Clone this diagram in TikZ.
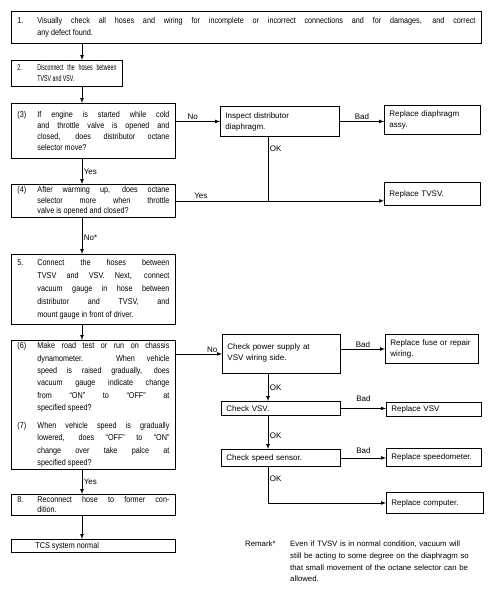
\documentclass[tikz,border=0pt]{standalone}
\usepackage{fontspec}
\setmainfont{Liberation Sans}
\newfontfamily\boxfont[FakeStretch=0.85]{Liberation Sans}
\newfontfamily\narrowfont[FakeStretch=0.62]{Liberation Sans}
\usetikzlibrary{arrows}
\tolerance=10000
\hbadness=10000
\newcommand{\numpar}[2]{\noindent\makebox[20pt][l]{#1}\parbox[t]{\dimexpr\hsize-20pt\relax}{\rightskip=0pt\relax #2}}

\begin{document}
\begin{tikzpicture}[x=1pt, y=-1pt, >=latex, %Pfeilspitzen
    stepbox/.style={draw, line width=0.9pt, anchor=north west, inner xsep=6pt, inner ysep=2pt, align=none,
      font=\boxfont\fontsize{8.5}{#1}\selectfont},
    stepbox/.default=12.4,
    fixbox/.style={draw, line width=0.9pt, anchor=north west, inner xsep=5pt, inner ysep=2pt, align=left,
      font=\fontsize{8}{11}\selectfont},
    lbl/.style={font=\fontsize{8}{9}\selectfont, inner sep=1.5pt},
    flow/.style={->, line width=0.7pt}]
  \useasboundingbox (0,0) rectangle (492,595);
  \coordinate (lspine) at (82,0);
  \coordinate (rspine) at (268,0);

  % linke Spalte
  \node[stepbox=12, text width=458pt, minimum height=32pt] (s1) at (11,11)
    {\numpar{1.}{Visually check all hoses and wiring for incomplete or incorrect connections and for damages, and correct\linebreak any defect found.}};
  \node[stepbox=11, text width=99pt, minimum height=26pt, font=\narrowfont\fontsize{8.5}{11}\selectfont] (s2) at (11,60)
    {\numpar{2.}{Disconnect the hoses between\linebreak TVSV and VSV.}};
  \node[stepbox=11.3, text width=152pt, minimum height=55pt] (s3) at (11,103)
    {\numpar{(3)}{If engine is started while cold\linebreak and throttle valve is opened and\linebreak closed, does distributor octane\linebreak selector move?}};
  \node[stepbox=10.5, text width=152pt, minimum height=31pt] (s4) at (11,184)
    {\numpar{(4)}{After warming up, does octane\linebreak selector more when throttle\linebreak valve is opened and closed?}};
  \node[stepbox=13, text width=152pt, minimum height=70pt] (s5) at (11,254)
    {\numpar{5.}{Connect the hoses between\linebreak TVSV and VSV. Next, connect\linebreak vacuum gauge in hose between\linebreak distributor and TVSV, and\linebreak mount gauge in front of driver.}};
  \node[stepbox=12.4, text width=152pt, minimum height=127pt] (s6) at (11,340)
    {\numpar{(6)}{Make road test or run on chassis\linebreak dynamometer. When vehicle\linebreak speed is raised gradually, does\linebreak vacuum gauge indicate change\linebreak from “ON” to “OFF” at\linebreak specified speed?}\par\vspace{9pt}
     \numpar{(7)}{When vehicle speed is gradually\linebreak lowered, does “OFF” to “ON”\linebreak change over take palce at\linebreak specified speed?}};
  \node[stepbox=10, text width=152pt, minimum height=21pt] (s8) at (11,494)
    {\numpar{8.}{Reconnect hose to former con-\linebreak dition.}};
  \node[stepbox=10, text width=152pt, minimum height=13pt] (tcs) at (11,539)
    {\noindent\hspace*{18pt}TCS system normal};

  % rechte Spalte
  \node[fixbox, text width=109pt, minimum height=30pt] (inspect) at (220,106) {Inspect distributor\\diaphragm.};
  \node[fixbox, text width=86pt, minimum height=29pt] (diaph) at (384,105) {Replace diaphragm\\assy.};
  \node[fixbox, text width=86pt, minimum height=23pt] (tvsv) at (384,182) {Replace TVSV.};
  \node[fixbox, text width=108pt, minimum height=39pt, text depth=14pt] (power) at (222,334) {Check power supply at\\VSV wiring side.};
  \node[fixbox, text width=83pt, minimum height=29pt] (fuse) at (385,334) {Replace fuse or repair\\wiring.};
  \node[fixbox, text width=109pt, minimum height=14pt] (vsv) at (221,401) {Check VSV.};
  \node[fixbox, text width=85pt, minimum height=14pt] (rvsv) at (386,402) {Replace VSV};
  \node[fixbox, text width=109pt, minimum height=17pt] (speed) at (221,449) {Check speed sensor.};
  \node[fixbox, text width=85pt, minimum height=18pt] (rspeed) at (386,448) {Replace speedometer.};
  \node[fixbox, text width=87pt, minimum height=21pt] (comp) at (386,492) {Replace computer.};

  % Verbindungen
  \draw[flow] (s1.south -| lspine) -- (s2.north -| lspine);
  \draw[flow] (s2.south -| lspine) -- (s3.north -| lspine);
  \draw[flow] (s3.south -| lspine) -- node[lbl, right] (ly1) {Yes} (s4.north -| lspine);
  \draw[flow] (s4.south -| lspine) -- node[lbl, right, pos=0.55] (lno1) {No*} (s5.north -| lspine);
  \draw[flow] (s5.south -| lspine) -- (s6.north -| lspine);
  \draw[flow] (s6.south -| lspine) -- node[lbl, right] (ly2) {Yes} (s8.north -| lspine);
  \draw[flow] (s8.south -| lspine) -- (tcs.north -| lspine);

  \draw[flow] (inspect.west -| s3.east) -- node[lbl, above, pos=0.38] (lno2) {No} (inspect.west);
  \draw[flow] (inspect.east) -- node[lbl, above] (lbad1) {Bad} (inspect.east -| diaph.west);
  \draw[line width=0.7pt] (inspect.south -| rspine) -- node[lbl, right, pos=0.19] (lok1) {OK} (rspine |- s4.east);
  \draw[flow] (s4.east) -- node[lbl, above, pos=0.12] (ly3) {Yes} (s4.east -| tvsv.west);

  \draw[flow] (power.west -| s6.east) -- node[lbl, above, pos=0.79] (lno3) {No} (power.west);
  \draw[flow] (power.east |- fuse.west) -- node[lbl, above] (lbad2) {Bad} (fuse.west);
  \draw[flow] (power.south -| rspine) -- node[lbl, right] (lok2) {OK} (vsv.north -| rspine);
  \draw[flow] (vsv.east) -- node[lbl, above=5pt] (lbad3) {Bad} (vsv.east -| rvsv.west);
  \draw[flow] (vsv.south -| rspine) -- node[lbl, right, pos=0.6] (lok3) {OK} (speed.north -| rspine);
  \draw[flow] (speed.east) -- node[lbl, above=3pt] (lbad4) {Bad} (speed.east -| rspeed.west);
  \draw[flow] (speed.south -| rspine) |- node[lbl, right, pos=0.16] (lok4) {OK} (comp.west);

  % Bemerkung
  \node[anchor=north west, inner sep=0pt, font=\fontsize{7.8}{11.7}\selectfont] (remhead) at (245,541) {Remark*};
  \node[anchor=north west, inner sep=0pt, text width=200pt, align=left, font=\fontsize{7.8}{11.7}\selectfont] (remtext) at (290,541)
    {Even if TVSV is in normal condition, vacuum will\\still be acting to some degree on the diaphragm so\\that small movement of the octane selector can be\\allowed.};
\end{tikzpicture}
\end{document}
